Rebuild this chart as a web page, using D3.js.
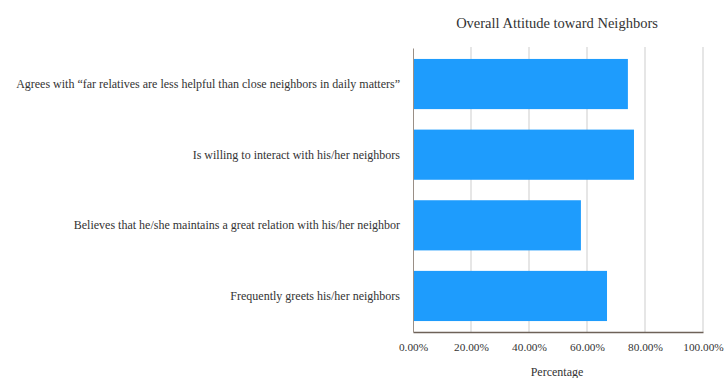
<!DOCTYPE html>
<html>
<head>
<meta charset="utf-8">
<script src="https://cdn.jsdelivr.net/npm/d3@7"></script>
<style>
  html, body { margin: 0; padding: 0; background: #fff; }
  svg text { font-family: 'Liberation Serif', 'Times New Roman', serif; fill: #333; }
</style>
</head>
<body>
<svg id="chart" width="725" height="378"></svg>
<script>
// Share of respondents agreeing with each statement about neighbors
const categories = [
  "Agrees with \u201cfar relatives are less helpful than close neighbors in daily matters\u201d",
  "Is willing to interact with his/her neighbors",
  "Believes that he/she maintains a great relation with his/her neighbor",
  "Frequently greets his/her neighbors"
];
const values = [0.741, 0.762, 0.579, 0.669];
const tickValues = [0, 0.2, 0.4, 0.6, 0.8, 1.0];
const chartTitle = "Overall Attitude toward Neighbors";
const xAxisTitle = "Percentage";

const SERIF = "'Liberation Serif', 'Times New Roman', serif";
const svg = d3.select("#chart");
const margin = { left: 413, right: 22, top: 48, bottom: 46 };
const width = 725, height = 378;

const x = d3.scaleLinear().domain([0, 1]).range([margin.left, width - margin.right]);
const y = d3.scaleBand().domain(categories)
  .range([margin.top, height - margin.bottom])
  .paddingInner(0.29).paddingOuter(0.155);

// vertical gridlines
svg.append("g").selectAll("line").data(tickValues.slice(1)).join("line")
  .attr("x1", d => x(d)).attr("x2", d => x(d))
  .attr("y1", margin.top - 1).attr("y2", height - margin.bottom)
  .attr("stroke", "#d6d6d6").attr("stroke-width", 1.2);

// bars
svg.append("g").selectAll("rect").data(values).join("rect")
  .attr("x", x(0))
  .attr("y", (d, i) => y(categories[i]))
  .attr("width", d => x(d) - x(0))
  .attr("height", y.bandwidth())
  .attr("fill", "#1e9cfd");

// x axis
const xAxis = d3.axisBottom(x).tickValues(tickValues)
  .tickFormat(d3.format(".2%")).tickSize(0).tickPadding(11);
const gx = svg.append("g").attr("transform", `translate(0,${height - margin.bottom})`).call(xAxis);
gx.attr("font-family", null);
gx.select(".domain").attr("stroke", "#6e6258").attr("stroke-width", 1.3);
gx.selectAll("text").style("font-family", SERIF).style("font-size", "11.3px").attr("fill", "#333");

// y axis
const yAxis = d3.axisLeft(y).tickSize(0).tickPadding(13);
const gy = svg.append("g").attr("transform", `translate(${margin.left},0)`).call(yAxis);
gy.attr("font-family", null);
gy.select(".domain").attr("stroke", "#9a8f86").attr("stroke-width", 1);
gy.selectAll("text").style("font-family", SERIF).style("font-size", "12px").attr("fill", "#333");

// titles
svg.append("text").attr("x", 557).attr("y", 28).attr("text-anchor", "middle")
  .style("font-family", SERIF).style("font-size", "14.5px").text(chartTitle);
svg.append("text").attr("x", 557).attr("y", 376).attr("text-anchor", "middle")
  .style("font-family", SERIF).style("font-size", "12px").text(xAxisTitle);
</script>
</body>
</html>
